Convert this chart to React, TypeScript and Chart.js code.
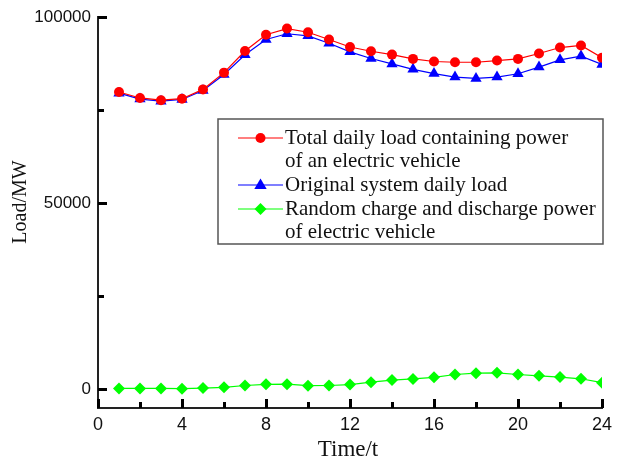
import React, { useEffect, useRef } from 'react';
import { Chart, registerables } from 'chart.js';

Chart.register(...registerables);

const hours = [1, 2, 3, 4, 5, 6, 7, 8, 9, 10, 11, 12, 13, 14, 15, 16, 17, 18, 19, 20, 21, 22, 23, 24];
const totalLoad = [79900, 78300, 77700, 78100, 80600, 85100, 90900, 95300, 96950, 95950, 94000, 92000, 90850, 89950, 88800, 88100, 87900, 87900, 88350, 88800, 90250, 91850, 92400, 89100];
const originalLoad = [79600, 78000, 77450, 77900, 80300, 84600, 89900, 94000, 95550, 95000, 93000, 90700, 88900, 87450, 86000, 84850, 83900, 83550, 83900, 84800, 86600, 88550, 89550, 87300];
const evPower = [250, 250, 250, 200, 350, 550, 1050, 1350, 1400, 1000, 1050, 1300, 1950, 2500, 2800, 3250, 4000, 4350, 4450, 4000, 3650, 3300, 2850, 1800];

const xMajorTicks = [0, 4, 8, 12, 16, 20, 24];
const xMinorTicks = [2, 6, 10, 14, 18, 22];
const yMajorTicks = [0, 50000, 100000];
const yMinorTicks = [25000, 75000];

const xTitle = 'Time/t';
const yTitle = 'Load/MW';
const seriesNames = [
  ['Total daily load containing power', 'of an electric vehicle'],
  ['Original system daily load'],
  ['Random charge and discharge power', 'of electric vehicle'],
];

const RED = '#ff0000';
const BLUE = '#0000ff';
const GREEN = '#00ff00';
const AXIS = '#222222';
const SERIF = '"Liberation Serif", "Times New Roman", serif';
const SANS = '"Liberation Sans", Arial, sans-serif';

function drawMarker(ctx: CanvasRenderingContext2D, kind: string, x: number, y: number, r: number, color: string) {
  ctx.save();
  ctx.fillStyle = color;
  ctx.beginPath();
  if (kind === 'circle') {
    ctx.arc(x, y, r, 0, Math.PI * 2);
  } else if (kind === 'triangle') {
    ctx.moveTo(x, y - r);
    ctx.lineTo(x + r * 0.95, y + r * 0.6);
    ctx.lineTo(x - r * 0.95, y + r * 0.6);
    ctx.closePath();
  } else {
    ctx.moveTo(x, y - r);
    ctx.lineTo(x + r, y);
    ctx.lineTo(x, y + r);
    ctx.lineTo(x - r, y);
    ctx.closePath();
  }
  ctx.fill();
  ctx.restore();
}

const decorPlugin = {
  id: 'decor',
  afterDraw(chart: any) {
    const ctx: CanvasRenderingContext2D = chart.ctx;
    const xs = chart.scales.x;
    const ys = chart.scales.y;
    const area = chart.chartArea;
    const left = area.left;
    const right = area.right;
    const bottom = area.bottom;
    ctx.save();
    ctx.fillStyle = '#000000';
    xMajorTicks.forEach((v) => {
      const px = Math.round(xs.getPixelForValue(v));
      ctx.fillRect(px - 1, bottom - 9, 3, 9);
    });
    xMinorTicks.forEach((v) => {
      const px = Math.round(xs.getPixelForValue(v));
      ctx.fillRect(px - 1, bottom - 6, 3, 6);
    });
    yMajorTicks.forEach((v) => {
      const py = Math.round(ys.getPixelForValue(v));
      ctx.fillRect(left, py - 1, 9, 3);
    });
    yMinorTicks.forEach((v) => {
      const py = Math.round(ys.getPixelForValue(v));
      ctx.fillRect(left, py - 1, 6, 3);
    });

    // axis titles
    ctx.fillStyle = '#111111';
    ctx.font = '23px ' + SERIF;
    ctx.textAlign = 'center';
    ctx.textBaseline = 'alphabetic';
    ctx.fillText(xTitle, (left + right) / 2 - 2, 456);
    ctx.save();
    ctx.translate(26, 202);
    ctx.rotate(-Math.PI / 2);
    ctx.font = '20px ' + SERIF;
    ctx.fillText(yTitle, 0, 0);
    ctx.restore();
    ctx.restore();

    // legend box
    const bx = 218, by = 119, bw = 385, bh = 125;
    ctx.save();
    ctx.fillStyle = '#ffffff';
    ctx.fillRect(bx, by, bw, bh);
    ctx.strokeStyle = '#555555';
    ctx.lineWidth = 1.5;
    ctx.strokeRect(bx, by, bw, bh);
    const rows = [138, 185, 209];
    const colors = [RED, BLUE, GREEN];
    const kinds = ['circle', 'triangle', 'diamond'];
    const radii = [5, 6.5, 6];
    ctx.font = '21px ' + SERIF;
    ctx.textBaseline = 'middle';
    ctx.textAlign = 'left';
    seriesNames.forEach((lines, i) => {
      const y = rows[i];
      ctx.strokeStyle = colors[i];
      ctx.lineWidth = 1.2;
      ctx.beginPath();
      ctx.moveTo(238, y);
      ctx.lineTo(283, y);
      ctx.stroke();
      drawMarker(ctx, kinds[i], 260.5, y, radii[i], colors[i]);
      ctx.fillStyle = '#111111';
      lines.forEach((t, j) => {
        ctx.fillText(t, 285, y + j * 23);
      });
    });
    ctx.restore();
  },
};

export default function App() {
  const ref = useRef<HTMLCanvasElement | null>(null);
  useEffect(() => {
    if (!ref.current) return;
    const chart = new Chart(ref.current, {
      type: 'line',
      data: {
        datasets: [
          {
            label: seriesNames[0].join(' '),
            data: hours.map((h, i) => ({ x: h, y: totalLoad[i] })),
            borderColor: RED,
            backgroundColor: RED,
            borderWidth: 1.2,
            pointStyle: 'circle',
            pointRadius: 5,
            pointBorderWidth: 0,
          },
          {
            label: seriesNames[1].join(' '),
            data: hours.map((h, i) => ({ x: h, y: originalLoad[i] })),
            borderColor: BLUE,
            backgroundColor: BLUE,
            borderWidth: 1.2,
            pointStyle: 'triangle',
            pointRadius: 6.5,
            pointBorderWidth: 0,
          },
          {
            label: seriesNames[2].join(' '),
            data: hours.map((h, i) => ({ x: h, y: evPower[i] })),
            borderColor: GREEN,
            backgroundColor: GREEN,
            borderWidth: 1.2,
            pointStyle: 'rectRot',
            pointRadius: 6,
            pointBorderWidth: 0,
          },
        ],
      },
      options: {
        animation: false,
        responsive: false,
        maintainAspectRatio: false,
        layout: { padding: { left: 0, top: 17, right: 24, bottom: 0 } },
        plugins: { legend: { display: false }, tooltip: { enabled: false } },
        scales: {
          x: {
            type: 'linear',
            min: 0,
            max: 24,
            grid: { display: false, drawTicks: false },
            border: { display: true, color: AXIS, width: 2 },
            afterBuildTicks: (s: any) => {
              s.ticks = xMajorTicks.map((v) => ({ value: v }));
            },
            afterFit: (s: any) => {
              s.height = 51;
            },
            ticks: {
              color: '#111111',
              font: { family: SANS, size: 18 },
              padding: 6,
              maxRotation: 0,
              autoSkip: false,
              callback: (v: any) => String(v),
            },
            title: { display: false },
          },
          y: {
            type: 'linear',
            min: -5000,
            max: 100000,
            grid: { display: false, drawTicks: false },
            border: { display: true, color: AXIS, width: 2 },
            afterBuildTicks: (s: any) => {
              s.ticks = yMajorTicks.map((v) => ({ value: v }));
            },
            afterFit: (s: any) => {
              s.width = 98;
            },
            ticks: {
              color: '#111111',
              font: { family: SANS, size: 17 },
              padding: 7,
              autoSkip: false,
              callback: (v: any) => String(v),
            },
            title: { display: false },
          },
        },
      },
      plugins: [decorPlugin],
    });
    return () => chart.destroy();
  }, []);
  return (
    <div style={{ position: 'fixed', left: 0, top: 0, width: 626, height: 459, background: '#ffffff' }}>
      <canvas ref={ref} width={626} height={459} style={{ width: 626, height: 459, display: 'block' }} />
    </div>
  );
}
